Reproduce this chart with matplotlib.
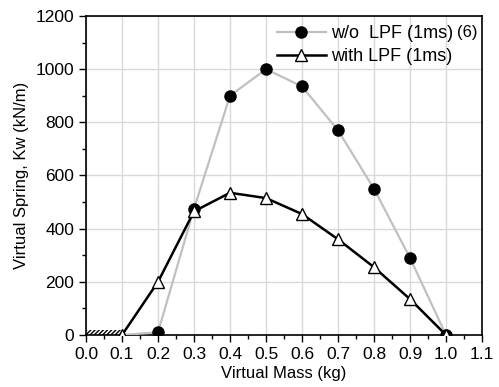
import matplotlib
matplotlib.use("Agg")
import matplotlib.pyplot as plt
import matplotlib.patches as mpl_patches
from matplotlib.ticker import MultipleLocator

plt.rcParams['font.family'] = ['Liberation Sans', 'DejaVu Sans']
plt.rcParams['hatch.linewidth'] = 1.0

mass = [0.1, 0.2, 0.3, 0.4, 0.5, 0.6, 0.7, 0.8, 0.9, 1.0]
spring_no_lpf = [0, 10, 475, 900, 1000, 935, 770, 550, 290, 0]
spring_lpf = [0, 200, 465, 535, 515, 455, 360, 255, 135, 0]
unstable_region = (0.0, 0.1, 20)

W, H = 499, 387
fig = plt.figure(figsize=(W / 100, H / 100), dpi=100)
ax = fig.add_axes([86 / W, 1 - 335 / H, (482 - 86) / W, (335 - 16) / H])

ax.plot(mass, spring_no_lpf, color='#c0c0c0', lw=1.6, marker='o', ms=8,
        mfc='black', mec='black', markevery=list(range(1, len(mass))),
        label='w/o  LPF (1ms)', zorder=3)
ax.plot(mass, spring_lpf, color='black', lw=1.8, marker='^', ms=8.5,
        mfc='white', mec='black', mew=1.0, label='with LPF (1ms)', zorder=4)

# hatched strip where the system is unstable
x0, x1, h = unstable_region
ax.add_patch(mpl_patches.Rectangle((x0, 0), x1 - x0, h, fill=False, hatch='////////',
                                   lw=0, edgecolor='black', zorder=2))

ax.set_xlim(0, 1.1)
ax.set_ylim(0, 1200)
ax.xaxis.set_major_locator(MultipleLocator(0.1))
ax.xaxis.set_minor_locator(MultipleLocator(0.05))
ax.yaxis.set_major_locator(MultipleLocator(200))
ax.yaxis.set_minor_locator(MultipleLocator(100))
ax.xaxis.set_major_formatter(plt.FuncFormatter(lambda v, p: "{0:.1f}".format(v)))
ax.grid(True, which='major', color='#d9d9d9', lw=1.0, zorder=0)
ax.set_axisbelow(True)
ax.tick_params(which='both', direction='out', labelsize=12.5, width=1)
ax.tick_params(which='major', length=5)
ax.tick_params(which='minor', length=3)
for s in ax.spines.values():
    s.set_linewidth(1.2)

ax.set_xlabel('Virtual Mass (kg)', fontsize=12, labelpad=3)
ax.set_ylabel('Virtual Spring, Kw (kN/m)', fontsize=12, labelpad=5)

ax.legend(loc='center left', frameon=False, fontsize=13, handlelength=2.7,
          handletextpad=0.3, borderpad=0, borderaxespad=0, labelspacing=0.35,
          bbox_to_anchor=(277 / W, 1 - 45 / H), bbox_transform=fig.transFigure)
fig.text(457 / W, 1 - 33 / H, '(6)', fontsize=12, va='center', ha='left')

fig.savefig('out.png', dpi=100)
